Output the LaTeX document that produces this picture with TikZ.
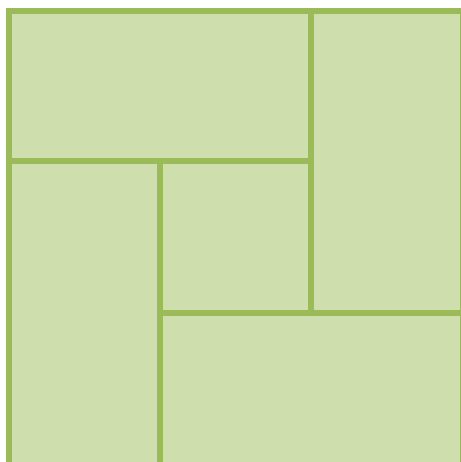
\documentclass[tikz,border=0pt]{standalone}
\usepackage{tikz}
\definecolor{tileFill}{HTML}{CEDEAD}
\definecolor{tileLine}{HTML}{9BBB59}

\begin{document}
\begin{tikzpicture}[x=0.02cm, y=-0.02cm]
\useasboundingbox (0,0) rectangle (460,462);
\fill[white] (0,0) rectangle (460,462);
\fill[tileFill] (9,11) rectangle (463,465);
\draw[tileLine, line width=2.9pt] (9,11) rectangle (311,161);
\draw[tileLine, line width=2.9pt] (311,11) rectangle (463,313);
\draw[tileLine, line width=2.9pt] (160,313) rectangle (463,465);
\draw[tileLine, line width=2.9pt] (9,161) rectangle (160,465);
\draw[tileLine, line width=2.9pt] (160,161) rectangle (311,313);
\end{tikzpicture}
\end{document}
